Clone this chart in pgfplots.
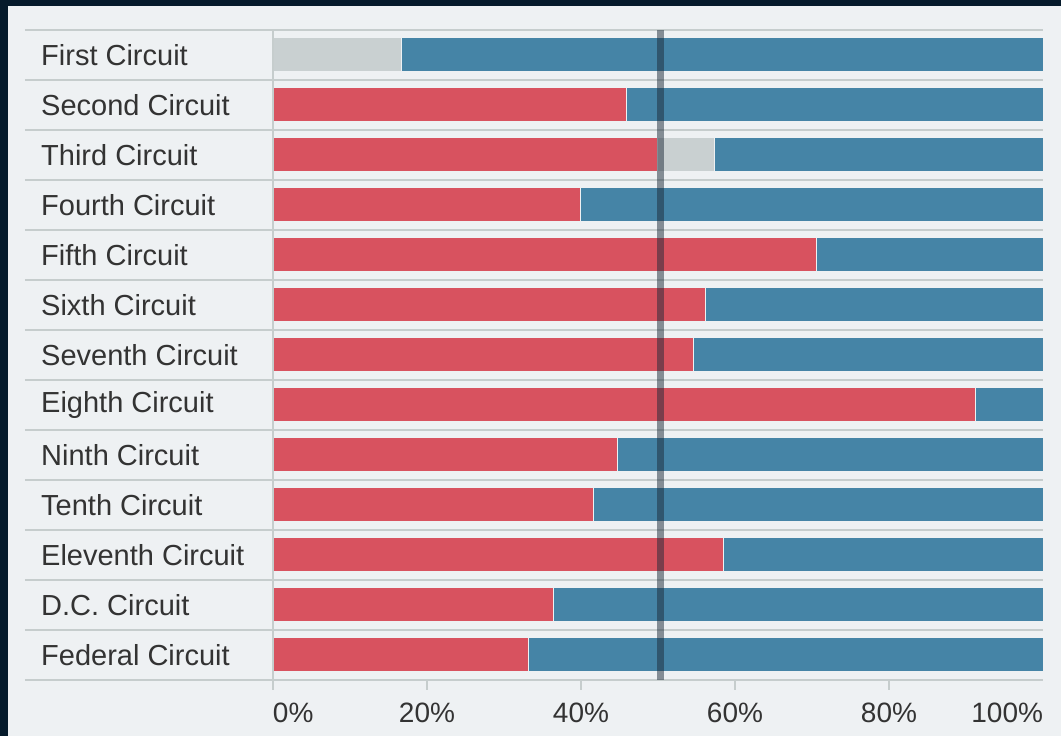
\documentclass[border=0pt]{standalone}
\usepackage{pgfplots}
\pgfplotsset{compat=1.18}
\usepackage{pgfplotstable}
\usepackage{fontspec}
\setmainfont{Liberation Sans}
\definecolor{rep}{HTML}{D8525F}
\definecolor{dem}{HTML}{4584A6}
\definecolor{vac}{HTML}{C9D0D1}
\definecolor{bg}{HTML}{EEF1F3}
\definecolor{frame}{HTML}{051A2B}
\definecolor{sep}{HTML}{C6CDCD}
\definecolor{txt}{HTML}{333333}
\definecolor{midline}{HTML}{1C2A38}

\pgfplotstableread{
y    red   grey  blue
12.5 0     16.7  83.3
11.5 45.9  0     54.1
10.5 50.0  7.3   42.7
9.5  39.9  0     60.1
8.5  70.6  0     29.4
7.5  56.2  0     43.8
6.5  54.6  0     45.4
5.5  91.2  0     8.8
4.5  44.8  0     55.2
3.5  41.6  0     58.4
2.5  58.5  0     41.5
1.5  36.4  0     63.6
0.5  33.2  0     66.8
}\circuits

\begin{document}
\begin{tikzpicture}
\fill[frame] (-273pt,-56pt) rectangle (788pt,680pt);
\useasboundingbox (-273pt,-56pt) rectangle (788pt,680pt);
\fill[bg] (-265pt,-56pt) rectangle (788pt,674pt);
\begin{axis}[
  at={(0pt,0pt)}, anchor=south west,
  scale only axis, width=770pt, height=650pt,
  xmin=0, xmax=100, ymin=0, ymax=13,
  clip=false,
  axis line style={draw=none},
  major tick length=0pt,
  xbar stacked, bar width=34pt,
  xtick={0,20,40,60,80,100},
  xticklabels={\makebox[0pt][l]{0\%},20\%,40\%,60\%,80\%,\makebox[0pt][r]{100\%}},
  xticklabel style={anchor=north, inner sep=0pt, yshift=-23pt, font=\fontsize{28}{30}\selectfont, text=txt},
  ytick={0.5,1.5,...,12.5},
  yticklabels={Federal Circuit,D.C. Circuit,Eleventh Circuit,Tenth Circuit,Ninth Circuit,Eighth Circuit,Seventh Circuit,Sixth Circuit,Fifth Circuit,Fourth Circuit,Third Circuit,Second Circuit,First Circuit},
  yticklabel style={anchor=west, inner sep=0pt, xshift=-232pt, font=\fontsize{29}{31}\selectfont, text=txt},
  every axis plot/.append style={draw=bg, line width=1pt},
]
\pgfplotsinvokeforeach{0,...,13}{
  \draw[sep, line width=1.6pt] (axis cs:0,#1) ++(-248pt,0) -- (axis cs:100,#1);
}
\draw[sep, line width=2pt] (axis cs:0,0) ++(0,-10pt) -- (axis cs:0,13);
\pgfplotsinvokeforeach{20,40,60,80}{
  \draw[sep, line width=1.6pt] (axis cs:#1,0) -- ++(0,-10pt);
}
\addplot[fill=rep] table[x=red, y=y] {\circuits};
\addplot[fill=vac] table[x=grey, y=y] {\circuits};
\addplot[fill=dem] table[x=blue, y=y] {\circuits};
\coordinate (mbot) at (axis cs:50.3,0);
\coordinate (mtop) at (axis cs:50.3,13);
\end{axis}
\draw[midline, opacity=0.5, line width=6.5pt] (mbot) -- (mtop);
\end{tikzpicture}
\end{document}
